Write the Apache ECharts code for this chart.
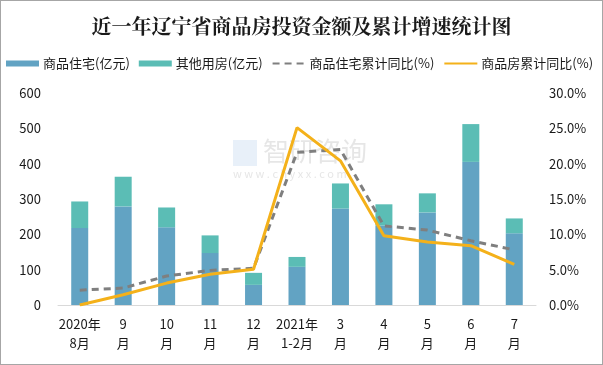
<!DOCTYPE html>
<html><head><meta charset="utf-8">
<script src="https://cdn.jsdelivr.net/npm/echarts@6/dist/echarts.min.js"></script>
<style>
html,body{margin:0;padding:0;background:#fff;}
#c{width:601px;height:363px;border:1px solid #a6a6a6;}
</style></head>
<body><div id="c"></div>
<script>
const categories = ['2020年\n8月','9\n月','10\n月','11\n月','12\n月','2021年\n1-2月','3\n月','4\n月','5\n月','6\n月','7\n月'];
const residential = [218, 279, 220, 147, 57, 108, 273, 225, 262, 405, 203];
const otherUse = [75, 84, 56, 50, 34, 28, 71, 60, 54, 107, 42];
const residentialYoY = [2.1, 2.4, 4.1, 4.9, 5.2, 21.6, 22.0, 11.2, 10.6, 9.1, 7.8];
const totalYoY = [0.0, 1.45, 3.1, 4.35, 5.05, 25.1, 20.4, 9.8, 8.9, 8.4, 5.75];
const leftTicks = {min:0, max:600, interval:100};
const rightTicks = {min:0, max:30, interval:5};

const chart = echarts.init(document.getElementById('c'));
const font = '"Microsoft YaHei","Noto Sans CJK SC",sans-serif';
chart.setOption({
  animation:false,
  title:{text:'近一年辽宁省商品房投资金额及累计增速统计图', left:'center', top:10,
    textStyle:{fontFamily:'"Noto Serif CJK SC","Noto Sans CJK SC",serif', fontWeight:'bold', fontSize:20, color:'#1a1a1a'}},
  legend:{top:56, left:5, width:598, padding:0, itemWidth:33, itemHeight:6, itemGap:9,
    textStyle:{fontFamily:font, fontSize:13, color:'#1a1a1a', padding:[0,0,0,-1]},
    data:[
      {name:'商品住宅(亿元)', icon:'rect'},
      {name:'其他用房(亿元)', icon:'rect'},
      {name:'商品住宅累计同比(%)', itemStyle:{opacity:0}},
      {name:'商品房累计同比(%)', itemStyle:{opacity:0}}
    ]},
  grid:{left:57, right:66, top:92, bottom:59},
  xAxis:{type:'category', data:categories,
    axisLine:{lineStyle:{color:'#d9d9d9', width:1}}, axisTick:{show:false},
    axisLabel:{color:'#1a1a1a', fontFamily:font, fontSize:13, lineHeight:19, margin:10, interval:0}},
  yAxis:[
    {type:'value', min:leftTicks.min, max:leftTicks.max, interval:leftTicks.interval,
     splitLine:{show:false}, axisLine:{show:false}, axisTick:{show:false},
     axisLabel:{color:'#1a1a1a', fontFamily:font, fontSize:13, margin:17}},
    {type:'value', min:rightTicks.min, max:rightTicks.max, interval:rightTicks.interval,
     splitLine:{show:false}, axisLine:{show:false}, axisTick:{show:false},
     axisLabel:{color:'#1a1a1a', fontFamily:font, fontSize:13, margin:13,
       formatter:v=>v.toFixed(1)+'%'}}
  ],
  graphic:[
    {type:'text', left:262, top:137, style:{text:'智研咨询', fontSize:26, fontFamily:font, fill:'rgba(200,200,200,0.45)'}, z:0},
    {type:'text', left:232, top:167, style:{text:'w w w . c h y x x . c o m', fontSize:11, fontFamily:font, fill:'rgba(200,200,200,0.45)'}, z:0},
    {type:'rect', left:232, top:139, shape:{width:24,height:26}, style:{fill:'rgba(180,205,235,0.3)'}, z:0}
  ],
  series:[
    {name:'商品住宅(亿元)', type:'bar', stack:'a', data:residential, barWidth:17,
     itemStyle:{color:'#62a3c3'}},
    {name:'其他用房(亿元)', type:'bar', stack:'a', data:otherUse, barWidth:17,
     itemStyle:{color:'#5bbdb5'}},
    {name:'商品住宅累计同比(%)', type:'line', yAxisIndex:1, data:residentialYoY,
     symbol:'none', lineStyle:{color:'#7f7f7f', width:3, type:[7,5]}, itemStyle:{color:'#7f7f7f'}},
    {name:'商品房累计同比(%)', type:'line', yAxisIndex:1, data:totalYoY,
     symbol:'none', lineStyle:{color:'#f4b11a', width:3}, itemStyle:{color:'#f4b11a'}}
  ]
});
</script></body></html>
